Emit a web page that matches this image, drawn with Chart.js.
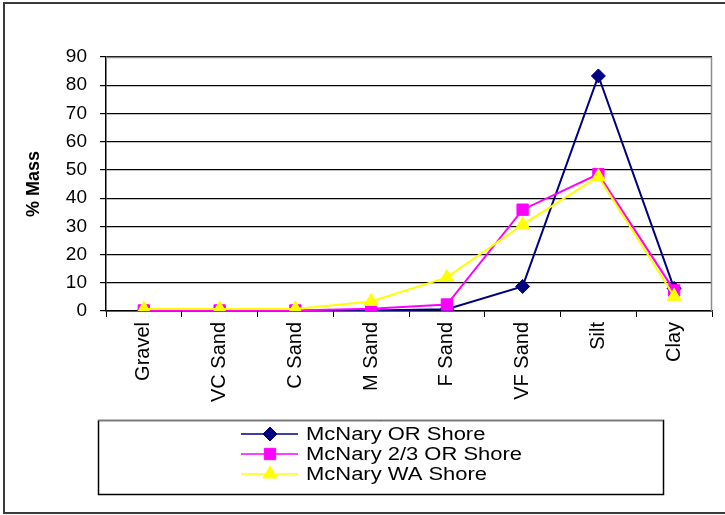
<!DOCTYPE html>
<html>
<head>
<meta charset="utf-8">
<script src="https://cdn.jsdelivr.net/npm/chart.js@4/dist/chart.umd.min.js"></script>
<style>
  html, body { margin: 0; padding: 0; background: #fff; }
  #wrap { position: relative; width: 725px; height: 515px; }
</style>
</head>
<body>
<div id="wrap"><canvas id="c" width="725" height="515"></canvas></div>
<script>
// Sediment grain-size classes
const categories = ['Gravel', 'VC Sand', 'C Sand', 'M Sand', 'F Sand', 'VF Sand', 'Silt', 'Clay'];

// Percent of total mass in each class
const orShore    = [0.1, 0.1, 0.1, 0.2, 0.6, 8.7, 83.3, 8.0];
const orTwoThird = [0.2, 0.2, 0.2, 0.8, 2.3, 35.9, 48.5, 7.3];
const waShore    = [0.7, 0.7, 0.7, 3.4, 11.9, 30.6, 47.6, 5.2];

const seriesNames = ['McNary OR Shore', 'McNary 2/3 OR Shore', 'McNary WA Shore'];
const yTicks = [0, 10, 20, 30, 40, 50, 60, 70, 80, 90];

const FONT = 'Arial, "Liberation Sans", sans-serif';

// Frame around the whole figure, plot border and the boxed legend
const framePlugin = {
  id: 'frame',
  beforeDatasetsDraw(chart) {
    const { ctx, chartArea: a } = chart;
    ctx.save();
    ctx.strokeStyle = '#8c8c8c';
    ctx.lineWidth = 1.5;
    ctx.beginPath();
    ctx.moveTo(a.left, a.top + 0.5);
    ctx.lineTo(a.right - 0.5, a.top + 0.5);
    ctx.lineTo(a.right - 0.5, a.bottom);
    ctx.stroke();
    ctx.restore();
  },
  afterDraw(chart) {
    const { ctx } = chart;
    ctx.save();
    // outer frame
    ctx.strokeStyle = '#3a3a3a';
    ctx.lineWidth = 2;
    ctx.strokeRect(4, 3, 740, 510);

    // legend box
    const lx = 98, ly = 420, lw = 565, lh = 74;
    ctx.strokeStyle = '#000';
    ctx.lineWidth = 1.5;
    ctx.strokeRect(lx + 0.5, ly + 0.5, lw, lh);
    ctx.strokeStyle = '#777';
    ctx.lineWidth = 1;
    ctx.beginPath();
    ctx.moveTo(lx, ly + 0.5);
    ctx.lineTo(lx + lw, ly + 0.5);
    ctx.stroke();

    const metas = chart.data.datasets;
    seriesNames.forEach((name, i) => {
      const ds = metas[i];
      const y = 434 + i * 20;
      ctx.strokeStyle = ds.borderColor;
      ctx.lineWidth = 1.5;
      ctx.beginPath();
      ctx.moveTo(241, y);
      ctx.lineTo(298, y);
      ctx.stroke();
      ctx.fillStyle = ds.pointBackgroundColor;
      ctx.strokeStyle = ds.pointBorderColor;
      ctx.lineWidth = 1;
      Chart.helpers.drawPoint(ctx, {
        pointStyle: ds.pointStyle,
        radius: ds.pointRadius,
        rotation: 0,
        borderWidth: 1
      }, 270, y);
      // legend text, slightly widened
      ctx.save();
      ctx.translate(306, y + 1);
      ctx.scale(1.22, 1);
      ctx.font = '18px ' + FONT;
      ctx.textBaseline = 'middle';
      ctx.textAlign = 'left';
      ctx.fillStyle = '#000';
      ctx.fillText(name, 0, 0);
      ctx.restore();
    });
    ctx.restore();
  }
};

function series(label, data, color, style, radius, order) {
  return {
    label, data, order,
    borderColor: color,
    backgroundColor: color,
    pointBackgroundColor: color,
    pointBorderColor: color,
    pointStyle: style,
    pointRadius: radius,
    pointHoverRadius: radius,
    pointBorderWidth: 1,
    borderWidth: 2,
    tension: 0
  };
}

new Chart(document.getElementById('c'), {
  type: 'line',
  data: {
    labels: categories,
    datasets: [
      series(seriesNames[0], orShore, '#000080', 'rectRot', 7, 2),
      series(seriesNames[1], orTwoThird, '#ff00ff', 'rect', 8, 1),
      series(seriesNames[2], waShore, '#ffff00', 'triangle', 8, 0)
    ]
  },
  options: {
    responsive: false,
    animation: false,
    devicePixelRatio: 1,
    layout: { padding: { left: 0, top: 57, right: 13, bottom: 0 } },
    plugins: { legend: { display: false }, tooltip: { enabled: false } },
    scales: {
      x: {
        offset: true,
        grid: {
          display: true,
          offset: true,
          drawOnChartArea: false,
          drawTicks: true,
          tickLength: 6,
          color: '#000'
        },
        border: { display: true, color: '#000', width: 1.5 },
        ticks: {
          autoSkip: false,
          maxRotation: 90,
          minRotation: 90,
          padding: 5,
          color: '#000',
          font: { family: FONT, size: 20 }
        },
        afterFit(scale) { scale.height = 204; }
      },
      y: {
        min: 0,
        max: 90,
        afterBuildTicks(scale) { scale.ticks = yTicks.map(v => ({ value: v })); },
        grid: {
          color: '#000',
          lineWidth: 1.2,
          drawTicks: true,
          tickLength: 6
        },
        border: { display: true, color: '#000', width: 1.5 },
        ticks: {
          padding: 13,
          color: '#000',
          font: { family: FONT, size: 19 }
        },
        title: {
          display: true,
          text: '% Mass',
          color: '#000',
          padding: { top: 23, bottom: 0 },
          font: { family: FONT, size: 18, weight: 'bold' }
        },
        afterFit(scale) { scale.width = 106; }
      }
    }
  },
  plugins: [framePlugin]
});
</script>
</body>
</html>
